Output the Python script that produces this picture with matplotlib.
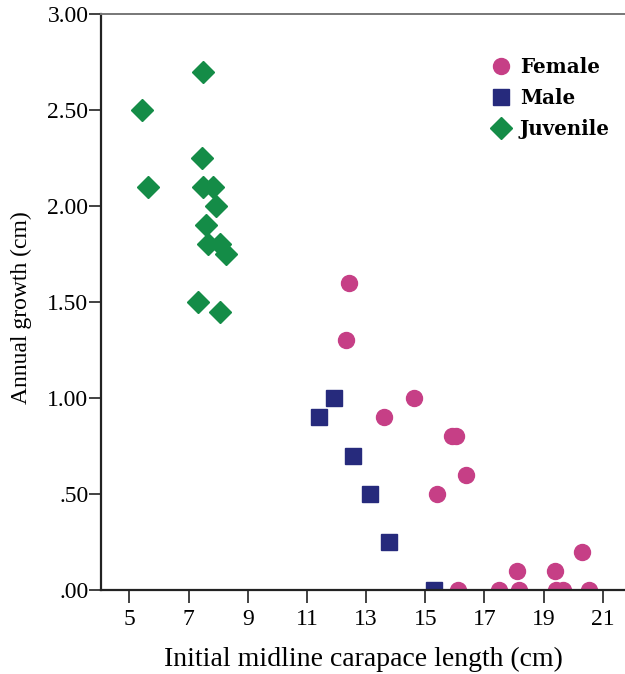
import numpy as np
import matplotlib.pyplot as plt

plt.rcParams['font.family'] = ['Liberation Serif', 'DejaVu Serif']

# data
female_x = [12.41, 12.31, 14.61, 13.60, 15.90, 16.05, 16.36, 15.40, 20.30, 18.11, 19.40,
            16.10, 17.49, 18.18, 19.42, 19.65, 20.53]
female_y = [1.60, 1.30, 1.00, 0.90, 0.80, 0.80, 0.60, 0.50, 0.20, 0.10, 0.10,
            0.00, 0.00, 0.00, 0.00, 0.00, 0.00]
male_x = [11.91, 11.41, 12.55, 13.12, 13.77, 15.31]
male_y = [1.00, 0.90, 0.70, 0.50, 0.25, 0.00]
juv_x = [7.50, 5.42, 7.45, 5.62, 7.48, 7.84, 7.93, 7.59, 7.67, 8.06, 8.27, 7.31, 8.06]
juv_y = [2.70, 2.50, 2.25, 2.10, 2.10, 2.10, 2.00, 1.90, 1.80, 1.80, 1.75, 1.50, 1.45]

x_ticks = [5, 7, 9, 11, 13, 15, 17, 19, 21]
y_ticks = [0, 0.5, 1.0, 1.5, 2.0, 2.5, 3.0]
y_labels = ['.00', '.50', '1.00', '1.50', '2.00', '2.50', '3.00']

fig = plt.figure(figsize=(6.25, 6.74), dpi=100)
ax = fig.add_axes([101/625, 1-590/674, 1-101/625, (590-14)/674])

ax.plot(female_x, female_y, 'o', ms=11.5, color='#C63F86', mec='#C63F86', label='Female')
ax.plot(male_x, male_y, 's', ms=11, color='#262A7C', mec='#262A7C', label='Male')
ax.plot(juv_x, juv_y, 'D', ms=11, color='#148C47', mec='#148C47', label='Juvenile')

ax.set_xlim(4.04, 21.75)
ax.set_ylim(0, 3.0)
ax.set_xticks(x_ticks)
ax.set_yticks(y_ticks)
ax.set_yticklabels(y_labels)
ax.tick_params(direction='out', length=9, width=1.3, color='#333333', labelsize=17, pad=0)
ax.tick_params(axis='x', pad=5)
for s in ['left', 'bottom']:
    ax.spines[s].set_linewidth(1.6)
    ax.spines[s].set_color('#222222')
ax.spines['top'].set_linewidth(1.4)
ax.spines['top'].set_color('#777777')
ax.spines['right'].set_visible(False)

ax.set_xlabel('Initial midline carapace length (cm)', fontsize=20, labelpad=12)
ax.set_ylabel('Annual growth (cm)', fontsize=17)
ax.yaxis.set_label_coords(-0.132, 0.491)

ax.legend(loc='upper left', bbox_to_anchor=(491.5/625, 1-57/674), bbox_transform=fig.transFigure,
          frameon=False, prop={'family': 'DejaVu Serif', 'weight': 'bold', 'size': 14.3},
          handletextpad=0.42, handlelength=1.0, labelspacing=0.55,
          borderpad=0, borderaxespad=0)

fig.savefig('out.png', dpi=100)
